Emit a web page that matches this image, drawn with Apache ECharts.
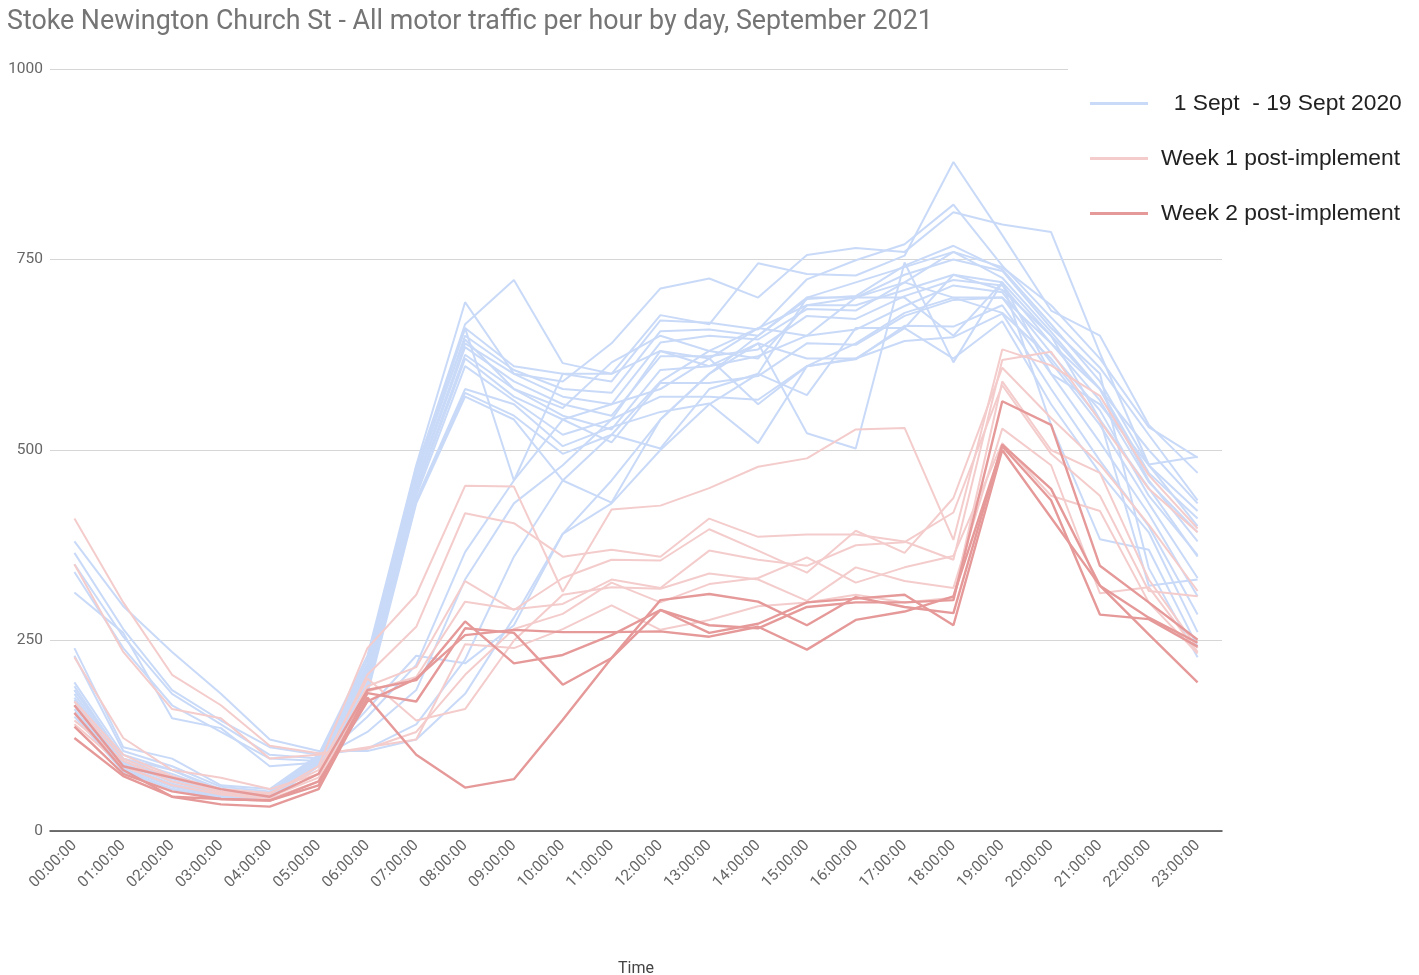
<!DOCTYPE html>
<html>
<head>
<meta charset="utf-8">
<title>Stoke Newington Church St traffic</title>
<script src="https://cdn.jsdelivr.net/npm/echarts@6/dist/echarts.min.js"></script>
<style>
  html, body { margin: 0; padding: 0; background: #fff; }
  #main { width: 1419px; height: 975px; }
</style>
</head>
<body>
<div id="main"></div>
<script type="text/javascript">
var hours = ['00:00:00','01:00:00','02:00:00','03:00:00','04:00:00','05:00:00','06:00:00','07:00:00',
  '08:00:00','09:00:00','10:00:00','11:00:00','12:00:00','13:00:00','14:00:00','15:00:00',
  '16:00:00','17:00:00','18:00:00','19:00:00','20:00:00','21:00:00','22:00:00','23:00:00'];

// 1 - 19 Sept 2020, one row per day
var sept2020 = [
  [240,110,95,60,55,100,230,480,694,600,590,640,712,725,700,756,765,760,812,796,786,627,481,491],
  [230,105,85,58,52,98,225,475,665,723,614,600,677,665,745,731,729,755,878,782,683,650,533,470],
  [195,100,80,55,50,95,220,470,660,610,600,590,670,667,658,724,749,770,822,742,674,608,520,434],
  [190,95,75,52,48,92,215,465,650,605,580,575,656,658,650,698,702,742,768,737,665,590,480,420],
  [185,92,70,50,47,90,210,460,640,600,570,560,641,650,645,685,683,720,760,726,655,580,470,410],
  [180,90,68,50,46,90,208,455,635,590,560,545,623,623,632,676,672,702,723,716,640,565,458,392],
  [172,88,65,48,45,88,205,450,625,580,545,527,605,610,623,650,658,689,716,707,627,552,440,362],
  [170,85,62,47,45,88,200,445,620,570,540,510,588,588,597,640,638,676,697,700,615,533,430,332],
  [165,85,60,46,44,86,195,440,610,565,520,540,570,570,566,610,619,663,662,690,600,510,416,308],
  [160,82,58,45,44,85,190,435,580,560,505,530,550,561,509,610,620,643,648,679,580,486,400,284],
  [155,80,55,44,43,85,185,432,575,545,495,520,502,580,600,572,660,660,620,669,560,470,392,261],
  [150,78,55,43,42,85,180,430,570,540,460,431,540,600,640,522,502,746,615,720,533,383,369,242],
  [175,90,72,50,48,95,212,470,660,460,600,600,630,620,660,650,700,730,750,735,660,600,345,228],
  [185,95,80,52,50,97,218,478,645,580,555,615,650,630,620,690,690,710,730,710,650,540,322,330],
  [380,295,235,180,120,105,105,120,180,280,390,460,540,600,650,700,720,740,760,740,690,620,530,490],
  [365,265,185,145,110,100,108,140,225,360,460,520,590,630,660,690,700,720,700,700,640,580,500,430],
  [350,255,180,140,100,95,130,185,330,430,480,540,630,610,640,620,620,660,730,720,600,560,480,400],
  [340,240,165,130,95,92,150,218,366,460,540,560,580,620,560,610,640,680,700,680,620,540,450,360],
  [313,260,148,135,85,90,160,230,220,270,390,430,500,560,600,700,700,700,650,720,650,580,460,380]
];

// week 1 after implementation
var week1 = [
  [165,95,70,52,48,85,240,310,453,452,314,422,427,450,478,489,527,529,382,632,611,571,467,397],
  [228,122,80,70,55,75,205,268,417,404,360,369,360,410,386,389,389,380,356,618,629,538,449,392],
  [145,92,65,50,45,70,190,215,328,290,332,356,355,396,368,339,394,365,437,608,542,481,402,315],
  [140,85,60,48,42,65,183,202,301,291,298,330,319,368,356,348,375,379,418,585,495,440,315,308],
  [170,100,72,55,50,80,200,145,160,250,310,320,318,338,330,302,346,328,319,528,480,312,320,235],
  [410,300,205,165,112,102,108,130,205,265,285,326,300,324,332,359,326,346,361,509,440,420,300,233],
  [350,235,160,148,95,100,110,120,245,240,265,296,264,277,295,300,310,300,306,590,500,470,330,240]
];

// week 2 after implementation
var week2 = [
  [165,85,70,55,45,75,185,198,275,220,231,257,290,270,266,294,300,300,303,564,533,348,300,251],
  [155,80,45,42,40,60,181,170,266,260,192,227,303,311,301,270,307,294,286,507,449,322,280,247],
  [137,75,52,42,40,65,170,200,257,264,261,261,262,255,268,238,277,288,308,505,434,284,278,242],
  [122,72,45,35,32,55,175,100,57,68,146,227,290,260,272,300,305,310,270,500,411,322,258,195]
];

var groups = [
  { name: '1 Sept  - 19 Sept 2020', color: '#c9daf8', days: sept2020, width: 2 },
  { name: 'Week 1 post-implement', color: '#f4cccc', days: week1, width: 2 },
  { name: 'Week 2 post-implement', color: '#e69999', days: week2, width: 2.4 }
];

var series = [];
groups.forEach(function (g, gi) {
  g.days.forEach(function (d) {
    series.push({
      name: g.name,
      type: 'line',
      data: d,
      showSymbol: false,
      z: 2 + gi,
      color: g.color,
      lineStyle: { color: g.color, width: g.width },
      itemStyle: { color: g.color },
      emphasis: { disabled: true }
    });
  });
});

var myChart = echarts.init(document.getElementById('main'));
var option = {
  animation: false,
  backgroundColor: '#fff',
  title: {
    text: 'Stoke Newington Church St - All motor traffic per hour by day, September 2021',
    left: 2,
    top: 4,
    textStyle: { fontFamily: 'Roboto', fontSize: 26.8, fontWeight: 'normal', color: '#757575' }
  },
  legend: {
    orient: 'vertical',
    left: 1068,
    top: 55,
    padding: [37, 6, 0, 22],
    backgroundColor: '#fff',
    z: 10,
    icon: 'rect',
    itemWidth: 58,
    itemHeight: 3,
    itemGap: 32,
    data: groups.map(function (g) { return g.name; }),
    formatter: function (name) {
      return name.charAt(0) === '1' ? '  ' + name : name;
    },
    textStyle: { fontFamily: 'Liberation Sans', fontSize: 22.8, color: '#222', padding: [0, 0, 0, 8] }
  },
  grid: { left: 50, right: 197, top: 69, bottom: 144, outerBoundsMode: 'none' },
  xAxis: {
    type: 'category',
    data: hours,
    boundaryGap: true,
    name: 'Time',
    nameLocation: 'middle',
    nameGap: 130,
    nameTextStyle: { fontFamily: 'Roboto', fontSize: 16, color: '#444' },
    axisLine: { lineStyle: { color: '#444', width: 1.5 } },
    axisTick: { show: false },
    axisLabel: { rotate: 45, interval: 0, margin: 12, fontFamily: 'Roboto', fontSize: 15.5, color: '#666' }
  },
  yAxis: {
    type: 'value',
    min: 0,
    max: 1000,
    interval: 250,
    axisLine: { show: false },
    axisTick: { show: false },
    axisLabel: {
      margin: 7, fontFamily: 'Roboto', fontSize: 15.5, color: '#666',
      formatter: function (v) { return String(v); }
    },
    splitLine: { lineStyle: { color: '#d6d6d6', width: 1.2 } }
  },
  series: series
};
myChart.setOption(option);
</script>
</body>
</html>
